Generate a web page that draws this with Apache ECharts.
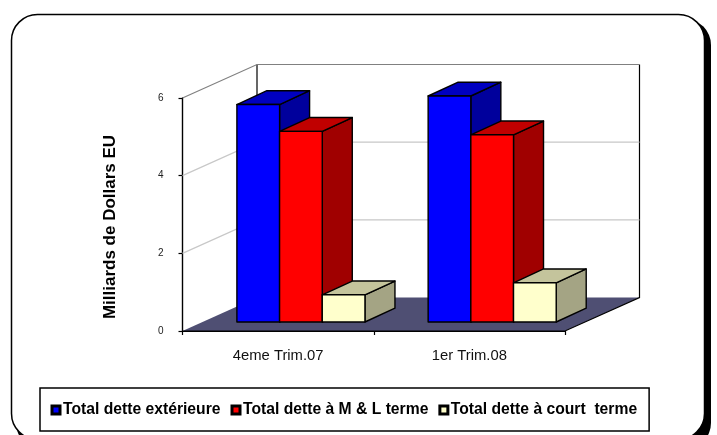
<!DOCTYPE html>
<html><head><meta charset="utf-8">
<style>html,body{margin:0;padding:0;background:#fff}#c{width:717px;height:435px}</style>
<script src="https://cdn.jsdelivr.net/npm/echarts@6/dist/echarts.min.js"></script>
</head><body><div id="c"></div>
<script>
const categories = ['4eme Trim.07', '1er Trim.08'];
const detteExterieure = [5.6, 5.82];
const detteML = [4.91, 4.82];
const detteCourt = [0.7, 1.01];
const yTicks = [0, 2, 4, 6];
const seriesNames = ['Total dette extérieure', 'Total dette à M & L terme', 'Total dette à court  terme'];

const FONT = '"Liberation Sans", Arial, sans-serif';
const WALL = [74.5, -33.5], BAR_DEPTH = [30, -13.8], BAR_LIFT = 9, BAR_SHIFT = 22.8, BAR_W = 0.2232;
const EDGE = { stroke: '#000', lineWidth: 1.4, lineJoin: 'round' };

function poly(points, fill) {
  return { type: 'polygon', shape: { points }, style: Object.assign({ fill }, EDGE) };
}
function barRenderer(slot, front, top, side) {
  return function (params, api) {
    const c = api.coord([api.value(0), api.value(1)]);
    const base = api.coord([api.value(0), 0])[1] - BAR_LIFT;
    const w = api.size([1, 0])[0] * BAR_W;
    const x0 = c[0] + BAR_SHIFT + (slot - 1.5) * w, x1 = x0 + w;
    const yT = c[1] - BAR_LIFT, dx = BAR_DEPTH[0], dy = BAR_DEPTH[1];
    return { type: 'group', children: [
      poly([[x1, yT], [x1 + dx, yT + dy], [x1 + dx, base + dy], [x1, base]], side),
      poly([[x0, yT], [x0 + dx, yT + dy], [x1 + dx, yT + dy], [x1, yT]], top),
      poly([[x0, yT], [x1, yT], [x1, base], [x0, base]], front)
    ] };
  };
}
function wallRenderer(params, api) {
  const v = api.value(0);
  const cs = params.coordSys;
  const y = api.coord([0, v])[1];
  const xL = cs.x, xR = cs.x + cs.width, dx = WALL[0], dy = WALL[1];
  const kids = [];
  if (v === 0) {
    const top = api.coord([0, yTicks[yTicks.length - 1]])[1];
    kids.push({ type: 'polygon', shape: { points: [[xL, y], [xL + dx, y + dy], [xR + dx, y + dy], [xR, y]] },
      style: { fill: '#4f4f73', stroke: 'none' } });
    kids.push({ type: 'polyline', shape: { points: [[xL, y], [xR, y], [xR + dx, y + dy], [xR + dx, top + dy]] },
      style: { fill: 'none', stroke: '#000', lineWidth: 1.2 } });
    kids.push({ type: 'line', shape: { x1: xL + dx, y1: top + dy, x2: xL + dx, y2: y + dy },
      style: { stroke: '#000', lineWidth: 1.2 } });
  } else {
    const last = v === yTicks[yTicks.length - 1];
    kids.push({ type: 'polyline', shape: { points: [[xL, y], [xL + dx, y + dy], [xR + dx, y + dy]] },
      style: { fill: 'none', stroke: last ? '#808080' : '#c8c8c8', lineWidth: 1.2 } });
  }
  return { type: 'group', children: kids };
}

const chart = echarts.init(document.getElementById('c'), null, { renderer: 'canvas' });
chart.setOption({
  animation: false,
  backgroundColor: '#fff',
  textStyle: { fontFamily: FONT },
  graphic: [
    { type: 'rect', z: -10, silent: true, shape: { x: 16, y: 19, width: 695, height: 430, r: 26 }, style: { fill: '#000' } },
    { type: 'rect', z: -9, silent: true, shape: { x: 11.5, y: 14.5, width: 693, height: 425, r: 26 }, style: { fill: '#fff', stroke: '#000', lineWidth: 1.5 } }
  ],
  grid: { left: 182.5, width: 382.5, top: 98, height: 233, containLabel: false },
  xAxis: { type: 'category', data: categories, boundaryGap: true,
    axisLine: { show: true, lineStyle: { color: '#000', width: 1.2 } },
    axisTick: { show: true, alignWithLabel: false, length: 4, lineStyle: { color: '#000', width: 1.2 } },
    axisLabel: { color: '#111', fontFamily: FONT, fontSize: 14.8, margin: 17 } },
  yAxis: { type: 'value', min: 0, max: 6, interval: 2,
    name: 'Milliards de Dollars EU', nameLocation: 'middle', nameGap: 64,
    nameTextStyle: { color: '#000', fontFamily: FONT, fontSize: 17, fontWeight: 'bold', padding: [0, 25, 0, 0] },
    axisLine: { show: true, lineStyle: { color: '#000', width: 1.4 } },
    axisTick: { show: true, length: 4, lineStyle: { color: '#000', width: 1.2 } },
    splitLine: { show: false },
    axisLabel: { color: '#222', fontFamily: FONT, fontSize: 10, margin: 19 } },
  legend: { show: true, left: 40, top: 388, data: seriesNames, icon: 'rect', itemWidth: 8, itemHeight: 8, itemGap: 10,
    padding: [14, 12, 13, 10.5], backgroundColor: '#fff', borderColor: '#000', borderWidth: 1.5,
    itemStyle: { borderColor: '#000', borderWidth: 3 },
    textStyle: { color: '#000', fontFamily: FONT, fontSize: 15.7, fontWeight: 'bold', padding: [0, 0, 0, -2] },
    selectedMode: false },
  series: [
    { type: 'custom', name: 'murs', silent: true, z: 1, renderItem: wallRenderer, encode: { y: 0 }, data: yTicks.map(v => [v]) },
    { type: 'custom', name: seriesNames[0], z: 2, itemStyle: { color: '#0000ff' }, renderItem: barRenderer(0, '#0000ff', '#0000c0', '#00009c'),
      encode: { x: 0, y: 1 }, data: detteExterieure.map((v, i) => [i, v]) },
    { type: 'custom', name: seriesNames[1], z: 3, itemStyle: { color: '#ff0000' }, renderItem: barRenderer(1, '#ff0000', '#c00000', '#a00000'),
      encode: { x: 0, y: 1 }, data: detteML.map((v, i) => [i, v]) },
    { type: 'custom', name: seriesNames[2], z: 4, itemStyle: { color: '#ffffcc' }, renderItem: barRenderer(2, '#ffffcc', '#c4c49c', '#a4a484'),
      encode: { x: 0, y: 1 }, data: detteCourt.map((v, i) => [i, v]) }
  ]
});
</script></body></html>
